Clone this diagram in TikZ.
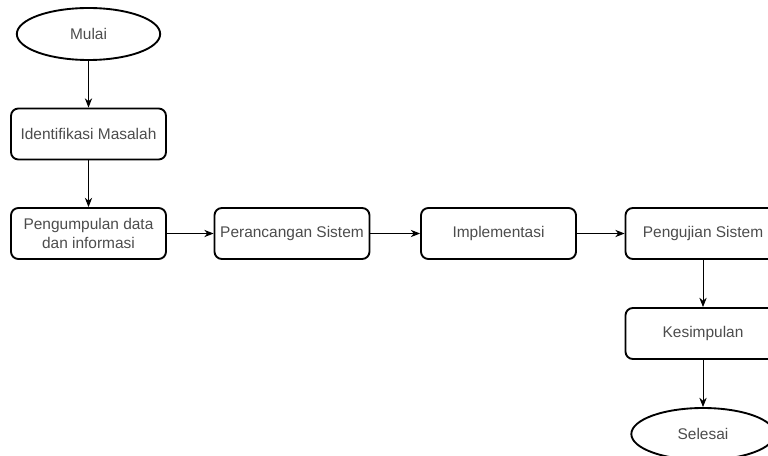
\documentclass[tikz,border=0pt]{standalone}
\usepackage{fontspec}
\setmainfont{Liberation Sans}
\usetikzlibrary{shapes.geometric,arrows.meta}

\begin{document}
\begin{tikzpicture}[x=0.03cm, y=-0.03cm,
    stepbox/.style={rectangle, rounded corners=0.22cm, draw, line width=1.6pt,
      minimum width=4.65cm, minimum height=1.53cm, inner sep=2pt, align=center,
      text=black!70, font=\fontsize{13.2}{17}\selectfont},
    terminal/.style={ellipse, draw, line width=1.6pt,
      minimum width=4.3cm, minimum height=1.56cm, inner sep=0pt,
      text=black!70, font=\fontsize{13.2}{17}\selectfont},
    flow/.style={-{Stealth[length=0.28cm, width=0.22cm]}, line width=0.8pt}]
  \clip (0, 0) rectangle (768, 456);

  \node (mulai) [terminal] at (88.5, 34) {Mulai};
  \node (ident) [stepbox] at (88.5, 134) {Identifikasi Masalah};
  \node (kumpul) [stepbox] at (88.5, 233.5) {Pengumpulan data\\dan informasi};
  \node (rancang) [stepbox] at (292, 233.5) {Perancangan Sistem};
  \node (impl) [stepbox] at (498.5, 233.5) {Implementasi};
  \node (uji) [stepbox] at (703, 233.5) {Pengujian Sistem};
  \node (simpul) [stepbox] at (703, 333.5) {Kesimpulan};
  \node (selesai) [terminal] at (703, 434) {Selesai};

  \draw[flow] (mulai) to (ident);
  \draw[flow] (ident) to (kumpul);
  \draw[flow] (kumpul) to (rancang);
  \draw[flow] (rancang) to (impl);
  \draw[flow] (impl) to (uji);
  \draw[flow] (uji) to (simpul);
  \draw[flow] (simpul) to (selesai);
\end{tikzpicture}
\end{document}
